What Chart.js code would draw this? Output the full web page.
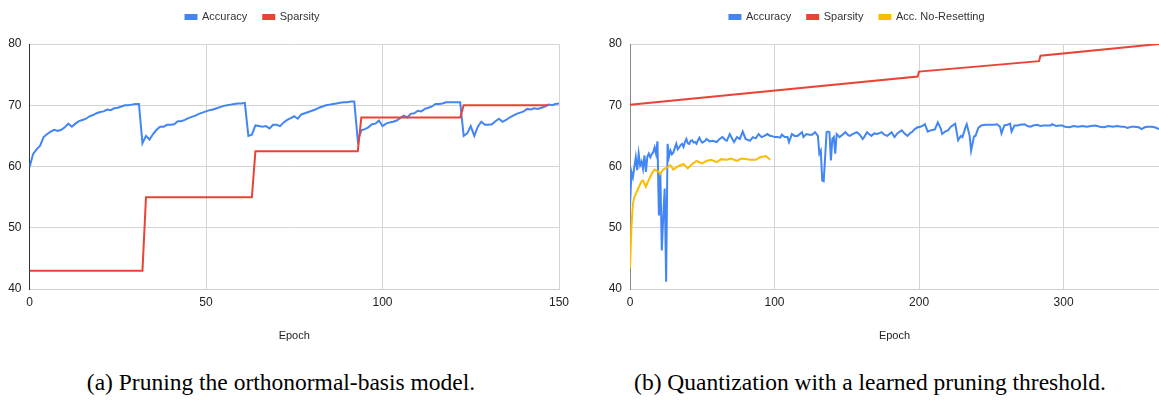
<!DOCTYPE html>
<html>
<head>
<meta charset="utf-8">
<script src="https://cdn.jsdelivr.net/npm/chart.js@4.4.1/dist/chart.umd.min.js"></script>
<style>
  body { margin: 0; background: #fff; width: 1159px; height: 401px; position: relative; overflow: hidden; }
  .box { position: absolute; top: 0; }
  .caption { position: absolute; top: 369px; font-family: "Liberation Serif", "Times New Roman", serif; font-size: 23.5px; line-height: 27px; color: #000; white-space: nowrap; transform: translateX(-50%); }
</style>
</head>
<body>
<div class="box" style="left:0px"><canvas id="chartA" width="580" height="350"></canvas></div>
<div class="box" style="left:590px"><canvas id="chartB" width="569" height="350"></canvas></div>
<div class="caption" style="left:281px">(a) Pruning the orthonormal-basis model.</div>
<div class="caption" style="left:870px">(b) Quantization with a learned pruning threshold.</div>
<script>
// couleurs (style Google Sheets)
const BLUE = "#4285f4";
const RED = "#ea4335";
const YELLOW = "#fbbc04";

// ---- (a) données : accuracy par epoch 0..150
const accA = [
  59.9, 62.0, 62.8, 63.4, 64.8, 65.3, 65.7, 66.0, 65.8, 66.0,
  66.4, 67.0, 66.5, 67.0, 67.4, 67.6, 67.8, 68.2, 68.4, 68.7,
  68.9, 69.0, 69.3, 69.2, 69.5, 69.6, 69.8, 70.0, 70.0, 70.1,
  70.2, 70.2, 63.8, 65.0, 64.4, 65.3, 66.0, 66.5, 66.5, 66.8,
  66.8, 66.9, 67.4, 67.4, 67.6, 67.9, 68.1, 68.3, 68.6, 68.8,
  69.0, 69.2, 69.3, 69.5, 69.7, 69.9, 70.0, 70.1, 70.2, 70.3,
  70.3, 70.4, 65.0, 65.2, 66.7, 66.6, 66.5, 66.6, 66.2, 66.8,
  66.8, 66.6, 67.2, 67.6, 67.9, 68.2, 67.8, 68.5, 68.7, 68.9,
  69.1, 69.3, 69.6, 69.8, 70.0, 70.1, 70.2, 70.3, 70.4, 70.5,
  70.5, 70.6, 70.6, 64.2, 65.9, 66.1, 66.4, 66.9, 67.0, 67.5,
  66.6, 67.0, 67.2, 67.3, 67.5, 67.9, 68.3, 68.0, 68.6, 68.7,
  69.1, 69.0, 69.4, 69.6, 69.8, 70.2, 70.2, 70.3, 70.5, 70.5,
  70.5, 70.5, 70.5, 65.0, 65.4, 66.6, 65.0, 66.5, 67.3, 66.8,
  66.8, 66.9, 67.4, 67.8, 67.3, 67.6, 68.0, 68.3, 68.6, 68.8,
  69.0, 69.4, 69.3, 69.5, 69.4, 69.6, 69.8, 70.1, 70.0, 70.2,
  70.3
];
const epochsA = accA.map((v, i) => i);

// sparsité (a) : paliers
const sparsityEpochsA = [0, 32, 33, 63, 64, 93, 94, 122, 123, 147];
const sparsityA = [43, 43, 55, 55, 62.5, 62.5, 68, 68, 70, 70];

const xTicksA = [0, 50, 100, 150];
const yTicks = [40, 50, 60, 70, 80];

// ---- (b) données
const epochsB = [
  0, 1, 2, 3, 4, 5, 6, 7, 8, 9, 10, 11, 12, 13, 14, 15, 16, 17, 18, 19,
  20, 21, 22, 23, 24, 25, 26, 27, 28, 29, 30, 31, 32, 33, 34, 35, 36, 37, 38, 39,
  40, 41, 42, 43, 44, 45, 46, 47, 48, 49, 50, 52, 53, 55, 57, 60, 62, 64, 66, 67,
  69, 71, 72, 74, 76, 78, 80, 81, 83, 85, 87, 89, 91, 93, 95, 97, 98, 100, 102, 104,
  105, 107, 109, 110, 112, 114, 116, 119, 120, 122, 124, 126, 128, 130, 131, 132, 133, 134, 135, 136,
  137, 138, 139, 140, 141, 142, 143, 145, 147, 149, 151, 152, 154, 157, 159, 161, 162, 164, 166, 167,
  169, 171, 173, 174, 176, 178, 180, 181, 183, 185, 186, 188, 190, 192, 194, 195, 197, 199, 201, 203,
  204, 206, 208, 210, 211, 213, 215, 216, 218, 220, 222, 225, 227, 229, 230, 232, 233, 235, 236, 238,
  239, 241, 243, 246, 249, 252, 254, 256, 257, 259, 261, 263, 264, 266, 268, 270, 273, 275, 277, 279,
  282, 284, 286, 289, 291, 292, 295, 297, 299, 301, 304, 307, 310, 313, 316, 319, 322, 325, 328, 331,
  334, 337, 340, 342, 344, 347, 349, 352, 354, 356, 358, 361, 363, 366
];
const accB = [
  53.5, 59.1, 58.2, 59.9, 61.5, 59.4, 62.1, 60.2, 60.8, 59.6, 61.8, 59.1, 61.6, 62.1, 61.5, 62.0, 62.3, 63.1, 62.1, 64.1,
  52.0, 58.9, 46.3, 51.8, 56.4, 41.2, 63.7, 61.6, 62.6, 62.0, 62.3, 63.0, 63.7, 62.8, 63.1, 63.5, 63.7, 63.2, 64.0, 64.5,
  63.8, 63.7, 64.2, 64.3, 63.9, 64.0, 63.7, 64.3, 64.7, 64.2, 63.9, 64.2, 64.5, 64.1, 64.2, 64.0, 64.5, 64.8, 64.3, 64.2,
  65.3, 64.4, 64.0, 64.8, 64.5, 65.7, 64.5, 64.4, 64.2, 64.8, 64.6, 65.3, 64.8, 65.0, 65.3, 65.0, 65.0, 64.8, 64.8, 64.7,
  65.2, 64.8, 64.8, 64.0, 65.3, 65.0, 65.0, 65.6, 64.8, 65.3, 65.2, 65.2, 65.6, 65.0, 62.1, 62.6, 57.7, 57.6, 61.5, 65.6,
  65.7, 65.6, 61.0, 64.5, 64.8, 62.1, 65.3, 64.8, 65.2, 65.6, 65.1, 65.0, 65.3, 65.6, 65.2, 64.5, 64.8, 65.6, 65.2, 65.0,
  65.4, 65.3, 65.5, 65.6, 65.2, 65.0, 65.4, 65.6, 64.8, 65.4, 65.6, 65.9, 65.4, 65.0, 65.5, 65.6, 66.1, 66.4, 66.5, 66.7,
  66.9, 65.7, 65.9, 66.0, 66.1, 67.2, 66.2, 65.3, 65.7, 65.9, 66.5, 67.0, 64.3, 65.0, 64.8, 66.3, 66.9, 65.0, 62.6, 64.9,
  65.0, 66.3, 66.7, 66.8, 66.8, 66.8, 66.9, 66.5, 65.4, 66.7, 66.8, 67.0, 65.7, 66.7, 66.7, 66.8, 66.9, 66.6, 66.5, 66.7,
  66.8, 66.6, 66.7, 66.7, 66.7, 66.9, 66.6, 66.7, 66.7, 66.5, 66.4, 66.6, 66.5, 66.6, 66.5, 66.6, 66.7, 66.5, 66.4, 66.6,
  66.5, 66.6, 66.5, 66.5, 66.3, 66.5, 66.5, 66.4, 66.1, 66.4, 66.5, 66.5, 66.4, 66.1
];

const sparsityEpochsB = [0, 199, 200, 283, 284, 366];
const sparsityB = [70.1, 74.7, 75.5, 77.2, 78.1, 80.0];

const noResetEpochsB = [
  0, 1, 2, 3, 4, 6, 8, 9, 11, 13, 15, 17, 20, 21, 23, 26, 28, 30, 33, 37,
  40, 43, 46, 50, 53, 56, 60, 63, 67, 70, 74, 77, 81, 83, 87, 90, 94, 97
];
const noResetB = [
  43.4, 50.1, 53.9, 55.0, 55.5, 56.6, 57.6, 57.7, 56.7, 57.8, 58.8, 59.5, 59.1, 58.8, 59.5, 59.9, 60.2, 59.5, 60.0, 60.4,
  59.7, 60.4, 60.9, 60.5, 60.9, 61.1, 60.7, 61.2, 61.1, 61.3, 60.9, 61.3, 61.2, 61.1, 61.1, 61.5, 61.7, 61.1
];

const xTicksB = [0, 100, 200, 300];

function toPoints(xs, ys) {
  return xs.map((x, i) => ({ x: x, y: ys[i] }));
}

function lineSet(label, xs, ys, color, order) {
  return {
    label: label,
    data: toPoints(xs, ys),
    borderColor: color,
    backgroundColor: color,
    borderWidth: 2,
    pointRadius: 0,
    tension: 0,
    order: order,
  };
}

// déplace la légende (centrée à gauche comme dans Sheets)
const legendShift = {
  id: "legendShift",
  afterLayout(chart, args, opts) {
    const lg = chart.legend;
    if (!lg) return;
    lg.left += opts.dx; lg.right += opts.dx;
    lg.top += opts.dy; lg.bottom += opts.dy;
  },
};

function makeOptions(xMax, xTicks, yAxisWidth, axisColor, dx) {
  return {
    responsive: false,
    animation: false,
    layout: { padding: { left: 0, right: 0, top: 7, bottom: 0 } },
    plugins: {
      legend: {
        position: "top",
        labels: {
          boxWidth: 11,
          boxHeight: 4,
          padding: 16,
          color: "#333",
          font: { family: "Liberation Sans, Arial", size: 11 },
          sort: (a, b) => a.datasetIndex - b.datasetIndex,
        },
      },
      tooltip: { enabled: false },
      legendShift: { dx: dx, dy: -11.5 },
    },
    scales: {
      x: {
        type: "linear",
        min: 0,
        max: xMax,
        afterFit: (s) => { s.height = 61; },
        afterBuildTicks: (s) => { s.ticks = xTicks.map((v) => ({ value: v })); },
        ticks: {
          color: "#222",
          padding: 6,
          font: { family: "Liberation Sans, Arial", size: 12 },
        },
        grid: { color: "#d4d4d4", drawTicks: false },
        border: { color: "#cfcfcf" },
        title: {
          display: true,
          text: "Epoch",
          color: "#222",
          font: { family: "Liberation Sans, Arial", size: 11 },
          padding: { top: 0, bottom: 7 },
        },
      },
      y: {
        min: 40,
        max: 80,
        afterFit: (s) => { s.width = yAxisWidth; },
        afterBuildTicks: (s) => { s.ticks = yTicks.map((v) => ({ value: v })); },
        ticks: {
          color: "#222",
          padding: 8,
          font: { family: "Liberation Sans, Arial", size: 12 },
        },
        grid: { color: "#d4d4d4", drawTicks: false },
        border: { color: axisColor, width: 1 },
      },
    },
  };
}

new Chart(document.getElementById("chartA"), {
  type: "line",
  data: {
    datasets: [
      lineSet("Accuracy", epochsA, accA, BLUE, 2),
      lineSet("Sparsity", sparsityEpochsA, sparsityA, RED, 1),
    ],
  },
  options: (() => {
    const o = makeOptions(150, xTicksA, 29.5, "#333", -27);
    o.layout.padding.right = 21;
    return o;
  })(),
  plugins: [legendShift],
});

new Chart(document.getElementById("chartB"), {
  type: "line",
  data: {
    datasets: [
      lineSet("Accuracy", epochsB, accB, BLUE, 3),
      lineSet("Sparsity", sparsityEpochsB, sparsityB, RED, 2),
      lineSet("Acc. No-Resetting", noResetEpochsB, noResetB, YELLOW, 1),
    ],
  },
  options: makeOptions(366, xTicksB, 40, "#888", -17.5),
  plugins: [legendShift],
});
</script>
</body>
</html>
